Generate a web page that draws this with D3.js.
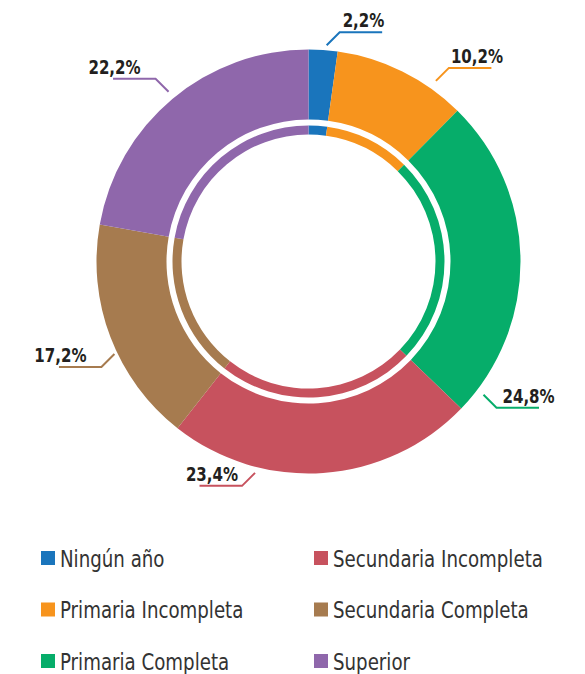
<!DOCTYPE html>
<html>
<head>
<meta charset="utf-8">
<script src="https://cdn.jsdelivr.net/npm/d3@7"></script>
<style>
  body { margin: 0; background: #fff; }
  svg { display: block; }
  .pct { font-family: "DejaVu Sans Condensed", "Liberation Sans", sans-serif; font-weight: bold; font-size: 19px; fill: #231f20; }
  .legend text { font-family: "DejaVu Sans Condensed", "Liberation Sans", sans-serif; font-size: 23px; fill: #333; }
</style>
</head>
<body>
<svg width="585" height="674"></svg>
<script>
  // data
  var categories = ["Ningún año", "Primaria Incompleta", "Primaria Completa",
                    "Secundaria Incompleta", "Secundaria Completa", "Superior"];
  var values = [2.2, 10.2, 24.8, 23.4, 17.2, 22.2];
  var colors = ["#1a75bc", "#f7941d", "#06ad6a", "#c7525e", "#a67b4f", "#8f67ab"];

  // where each callout leaves the ring (degrees clockwise from top) and text shift
  var callouts = [
    {angle: 4.8,   r: 217, dx: 3},
    {angle: 35.2,  r: 221, dx: 2},
    {angle: 127.3, r: 220, dx: 6},
    {angle: 194.2, r: 218, dx: -4},
    {angle: 244.5, r: 215, dx: -15},
    {angle: 320.5, r: 220, dx: -15}
  ];

  var svg = d3.select("svg");
  var cx = 308.5, cy = 261.5;
  var squeeze = 0.88; // the reference face is narrower than what is installed

  var data = categories.map(function(c, i){
    return {name: c, value: values[i], color: colors[i]};
  });

  var pie = d3.pie().value(function(d){ return d.value; }).sort(null);
  var arcs = pie(data);

  var outer = d3.arc().innerRadius(142).outerRadius(212);
  var thin = d3.arc().innerRadius(127).outerRadius(136);

  var g = svg.append("g").attr("transform", "translate(" + cx + "," + cy + ")");

  g.selectAll("path.outer").data(arcs).enter()
    .append("path").attr("class", "outer")
    .attr("d", outer)
    .attr("fill", function(d){ return d.data.color; });

  g.selectAll("path.thin").data(arcs).enter()
    .append("path").attr("class", "thin")
    .attr("d", thin)
    .attr("fill", function(d){ return d.data.color; });

  // callouts
  var fmt = function(v){ return v.toFixed(1).replace(".", ",") + "%"; };
  var diag = 13, run = 42.5;

  arcs.forEach(function(a, i){
    var c = callouts[i];
    var rad = c.angle * Math.PI / 180;
    var x0 = Math.sin(rad) * c.r, y0 = -Math.cos(rad) * c.r;
    var sx = Math.sin(rad) >= 0 ? 1 : -1;
    var sy = Math.cos(rad) >= 0 ? -1 : 1;
    var x1 = x0 + sx * diag, y1 = y0 + sy * diag;
    var x2 = x1 + sx * run;

    g.append("polyline")
      .attr("points", [[x0, y0], [x1, y1], [x2, y1]].map(function(p){ return p.join(","); }).join(" "))
      .attr("fill", "none")
      .attr("stroke", a.data.color)
      .attr("stroke-width", 2);

    g.append("text")
      .attr("class", "pct")
      .attr("transform", "translate(" + (x1 + c.dx) + "," + (y1 - 5) + ") scale(" + squeeze + ",1)")
      .attr("text-anchor", sx > 0 ? "start" : "end")
      .text(fmt(a.data.value));
  });

  // legend, two columns of three
  var legend = svg.append("g").attr("class", "legend");
  var colX = d3.scalePoint().domain([0, 1]).range([41, 314]);
  var rowY = d3.scalePoint().domain([0, 1, 2]).range([551, 654]);

  var item = legend.selectAll("g").data(data).enter()
    .append("g")
    .attr("transform", function(d, i){
      return "translate(" + colX(Math.floor(i / 3)) + "," + rowY(i % 3) + ")";
    });

  item.append("rect")
    .attr("width", 14).attr("height", 14)
    .attr("fill", function(d){ return d.color; });

  item.append("text")
    .attr("transform", "translate(19,15.5) scale(" + squeeze + ",1)")
    .text(function(d){ return d.name; });
</script>
</body>
</html>
